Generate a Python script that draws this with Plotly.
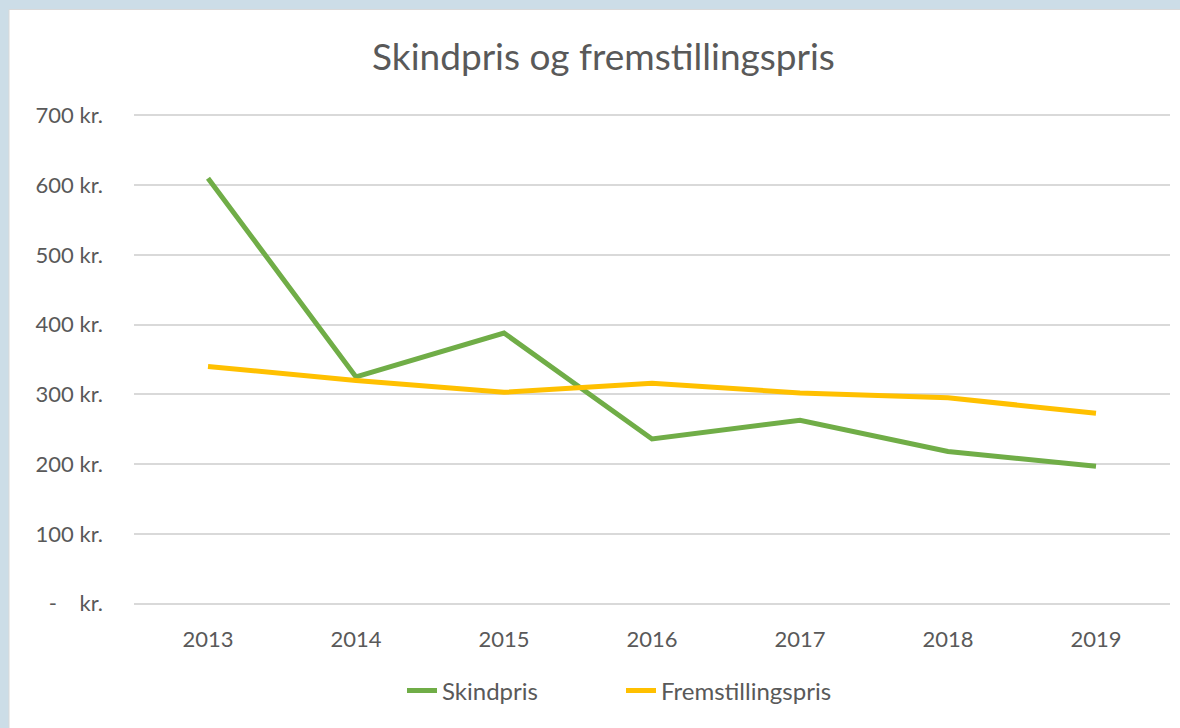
import plotly.graph_objects as go

years = ["2013", "2014", "2015", "2016", "2017", "2018", "2019"]
skindpris = [610, 325, 388, 236, 263, 218, 197]
fremstillingspris = [340, 320, 303, 316, 302, 295, 273]
y_ticks = [0, 100, 200, 300, 400, 500, 600, 700]
y_ticktext = ["-\u00a0\u00a0\u00a0\u00a0kr."] + [f"{v} kr." for v in y_ticks[1:]]

W, H = 1180, 728
L, R, T, B = 134, 10, 114, 123
pw = W - L - R
ph = H - T - B

def px(x):
    return (x - L) / pw

def py(y):
    return (H - B - y) / ph

font_family = "Lato, 'Open Sans', sans-serif"
grey = "#595959"

fig = go.Figure()
fig.add_trace(go.Scatter(x=years, y=skindpris, mode="lines", name="Skindpris",
                         line=dict(color="#70AD47", width=5)))
fig.add_trace(go.Scatter(x=years, y=fremstillingspris, mode="lines", name="Fremstillingspris",
                         line=dict(color="#FFC000", width=5)))

fig.update_layout(
    width=W, height=H,
    margin=dict(l=L, r=R, t=T, b=B),
    paper_bgcolor="#CCDDE7",
    plot_bgcolor="white",
    font=dict(family=font_family, color=grey, size=22),
    title=dict(text="Skindpris og fremstillingspris", x=603.5 / W, xanchor="center",
               y=1 - 57 / H, yanchor="middle", font=dict(size=37, color=grey)),
    showlegend=True,
    legend=dict(orientation="h", x=px(402), xanchor="left", y=py(691), yanchor="middle",
                entrywidth=174, entrywidthmode="pixels",
                font=dict(size=24, color=grey), bgcolor="rgba(0,0,0,0)"),
    shapes=[dict(type="rect", xref="paper", yref="paper",
                 x0=px(9), x1=px(1185), y0=py(735), y1=py(9.5),
                 fillcolor="white", line=dict(color="#D9D9D9", width=1), layer="below")],
)
fig.update_xaxes(type="category", range=[-0.5, 6.5], showgrid=False, zeroline=False,
                 showline=False, ticks="", ticklabelstandoff=19,
                 tickfont=dict(size=22, color=grey))
fig.update_yaxes(range=[-2, 702], tickvals=y_ticks, ticktext=y_ticktext,
                 showgrid=True, gridcolor="#D9D9D9", gridwidth=1.5, zeroline=False,
                 showline=False, ticks="", ticklabelstandoff=30,
                 tickfont=dict(size=22, color=grey))

fig.write_html("out.html")
